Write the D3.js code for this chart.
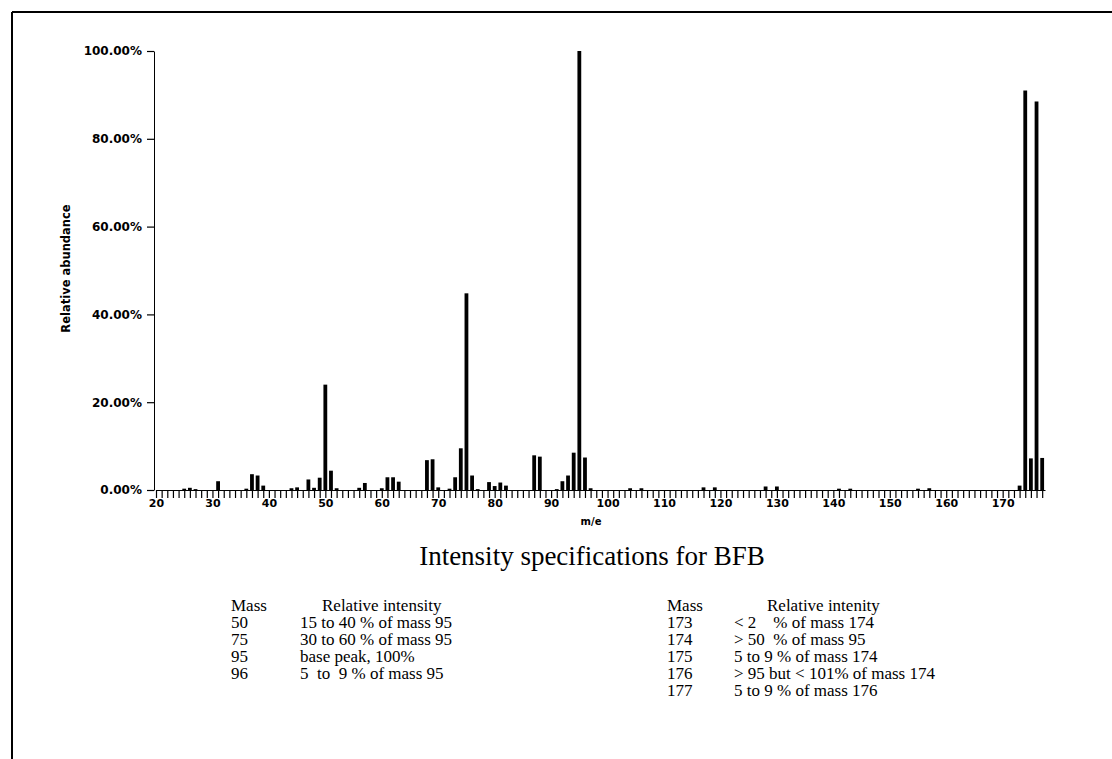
<!DOCTYPE html>
<html>
<head>
<meta charset="utf-8">
<script src="https://cdn.jsdelivr.net/npm/d3@7/dist/d3.min.js"></script>
<style>
  html, body { margin: 0; padding: 0; background: #fff; }
  svg { display: block; }
</style>
</head>
<body>
<svg id="chart" width="1112" height="759"></svg>
<script>
// BFB (bromofluorobenzene) mass spectrum, relative abundance by m/e
const masses = [25, 26, 27, 31, 36, 37, 38, 39, 44, 45, 47, 48, 49, 50, 51, 52, 56, 57,
  60, 61, 62, 63, 68, 69, 70, 72, 73, 74, 75, 76, 77, 79, 80, 81, 82, 87, 88, 91, 92, 93,
  94, 95, 96, 97, 104, 106, 117, 119, 128, 130, 141, 143, 155, 157, 173, 174, 175, 176, 177];
const abundance = [0.3, 0.5, 0.2, 2.0, 0.3, 3.6, 3.3, 1.0, 0.4, 0.6, 2.4, 0.5, 2.8, 24.0, 4.4, 0.4, 0.5, 1.6,
  0.4, 2.9, 2.9, 1.9, 6.8, 7.0, 0.6, 0.3, 2.9, 9.5, 44.8, 3.3, 0.2, 1.8, 0.9, 1.7, 1.0, 7.9, 7.6, 0.2, 2.0, 3.3,
  8.5, 100, 7.4, 0.4, 0.4, 0.4, 0.6, 0.6, 0.8, 0.8, 0.3, 0.3, 0.3, 0.4, 1.0, 91.0, 7.2, 88.5, 7.3];

const yTicks = [0, 20, 40, 60, 80, 100];
const xLabelStep = 10;

// Intensity specification table
const specMassLeft = ["50", "75", "95", "96"];
const specTextLeft = ["15 to 40 % of mass 95", "30 to 60 % of mass 95", "base peak, 100%", "5  to  9 % of mass 95"];
const specMassRight = ["173", "174", "175", "176", "177"];
const specTextRight = ["< 2    % of mass 174", "> 50  % of mass 95", "5 to 9 % of mass 174", "> 95 but < 101% of mass 174", "5 to 9 % of mass 176"];

const svg = d3.select("#chart");

// page frame
svg.append("line").attr("x1", 12).attr("y1", 12).attr("x2", 1112).attr("y2", 12)
  .attr("stroke", "#000").attr("stroke-width", 2);
svg.append("line").attr("x1", 12).attr("y1", 12).attr("x2", 12).attr("y2", 759)
  .attr("stroke", "#000").attr("stroke-width", 2);

const x = d3.scaleLinear().domain([20, 177.5]).range([156, 1045]);
const y = d3.scaleLinear().domain([0, 100]).range([490, 51]);

const axisFont = "'DejaVu Sans', Verdana, sans-serif";

// x axis: a tick at every mass unit, labels every 10
const xAxis = d3.axisBottom(x)
  .tickValues(d3.range(20, 178))
  .tickSize(8)
  .tickSizeOuter(0)
  .tickFormat(d => d % xLabelStep === 0 ? String(d) : "");
const gx = svg.append("g").attr("transform", `translate(0,${y(0)})`).call(xAxis);
gx.select(".domain").attr("stroke", "#000").attr("stroke-width", 1.2);
gx.selectAll(".tick line").attr("stroke", "#000").attr("stroke-width", 1.2);
gx.selectAll(".tick text").attr("font-family", axisFont).attr("font-size", 11)
  .attr("font-weight", "bold").attr("fill", "#000").attr("y", 9).attr("dy", "0.71em");

// y axis
const yAxis = d3.axisLeft(y)
  .tickValues(yTicks)
  .tickSize(7)
  .tickSizeOuter(0)
  .tickFormat(d => d.toFixed(2) + "%");
const gy = svg.append("g").attr("transform", `translate(${x.range()[0] - 2},0)`).call(yAxis);
gy.select(".domain").attr("stroke", "#000").attr("stroke-width", 1);
gy.selectAll(".tick line").attr("stroke", "#000").attr("stroke-width", 1.2);
gy.selectAll(".tick text").attr("font-family", axisFont).attr("font-size", 12)
  .attr("font-weight", "bold").attr("fill", "#000").attr("x", -12);

// spectrum bars
const barW = 3.8;
const peaks = masses.map((m, i) => ({ m, v: abundance[i] }));
svg.append("g").selectAll("rect").data(peaks).join("rect")
  .attr("x", d => x(d.m) - barW / 2)
  .attr("y", d => y(d.v))
  .attr("width", barW)
  .attr("height", d => y(0) - y(d.v))
  .attr("fill", "#000");

// axis titles
svg.append("text")
  .attr("transform", `translate(70,${y(50) - 2}) rotate(-90)`)
  .attr("text-anchor", "middle")
  .attr("font-family", axisFont).attr("font-size", 11.5).attr("font-weight", "bold")
  .text("Relative abundance");
svg.append("text")
  .attr("x", 591).attr("y", 525)
  .attr("text-anchor", "middle")
  .attr("font-family", axisFont).attr("font-size", 10).attr("font-weight", "bold")
  .text("m/e");

// specification section
const serif = "'Liberation Serif', 'Times New Roman', serif";
svg.append("text")
  .attr("x", 592).attr("y", 565)
  .attr("text-anchor", "middle")
  .attr("font-family", serif).attr("font-size", 27)
  .text("Intensity specifications for BFB");

const rowY0 = 611, rowH = 17;
function table(massX, textX, headX, headText, massList, textList) {
  const g = svg.append("g").attr("font-family", serif).attr("font-size", 17).attr("fill", "#000");
  g.append("text").attr("x", massX).attr("y", rowY0).text("Mass");
  g.append("text").attr("x", headX).attr("y", rowY0).text(headText);
  massList.forEach((m, i) => {
    g.append("text").attr("x", massX).attr("y", rowY0 + rowH * (i + 1)).text(m);
    g.append("text").attr("x", textX).attr("y", rowY0 + rowH * (i + 1))
      .attr("xml:space", "preserve").style("white-space", "pre").text(textList[i]);
  });
}
table(231, 300, 322, "Relative intensity", specMassLeft, specTextLeft);
table(667, 734, 767, "Relative intenity", specMassRight, specTextRight);
</script>
</body>
</html>
